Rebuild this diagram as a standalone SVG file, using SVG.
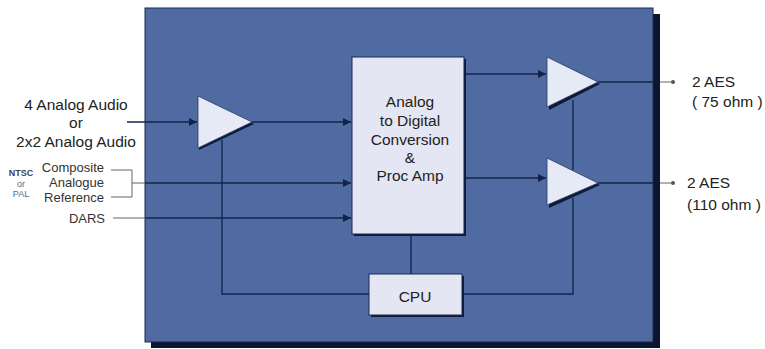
<svg xmlns="http://www.w3.org/2000/svg" width="765" height="349" viewBox="0 0 765 349">
<defs>
<style>
.t{font-family:"Liberation Sans",Arial,sans-serif;fill:#222;font-size:15.5px}
.s{font-family:"Liberation Sans",Arial,sans-serif;fill:#333;font-size:13px}
.w{stroke:#15234a;stroke-width:1.3;fill:none}
.o{stroke:#666;stroke-width:1;fill:none}
.tri{fill:#e6e9f6;stroke:#2a3a66;stroke-width:0.8}
.sh{fill:#0d1a38}
.box{fill:#e4e6f3;stroke:#1d2b55;stroke-width:1}
</style>
<marker id="ar" viewBox="0 0 10 10" refX="10" refY="5" markerWidth="8" markerHeight="8" markerUnits="userSpaceOnUse" orient="auto">
<path d="M0,0L10,5L0,10z" fill="#15234a"/>
</marker>
<marker id="dot" viewBox="0 0 4 4" refX="2" refY="2" markerWidth="4" markerHeight="4" markerUnits="userSpaceOnUse">
<circle cx="2" cy="2" r="2" fill="#555"/>
</marker>
</defs>
<rect width="765" height="349" fill="#fff"/>
<g id="frame">
<rect x="151" y="14" width="509" height="334" fill="#0d1530"/>
<rect x="145" y="8" width="508" height="334" fill="#4f6ba1" stroke="#1b2a52" stroke-width="1"/>
</g>
<g id="connectors">
<path class="w" d="M127,122H197" marker-end="url(#ar)"/>
<path class="w" d="M252,122H351" marker-end="url(#ar)"/>
<path class="o" d="M111,170H132V197H111M132,183H145"/>
<path class="w" d="M145,183H351" marker-end="url(#ar)"/>
<path class="o" d="M113,218H145"/>
<path class="w" d="M145,218H351" marker-end="url(#ar)"/>
<path class="w" d="M464,74H546" marker-end="url(#ar)"/>
<path class="w" d="M464,178H546" marker-end="url(#ar)"/>
<path class="w" d="M222,140V294H369"/>
<path class="w" d="M411,234V274"/>
<path class="w" d="M462,294H573V198M573,170V100"/>
<path class="w" d="M598,82H653"/>
<path class="w" d="M598,183H653"/>
<path class="o" d="M660,82H673" marker-end="url(#dot)"/>
<path class="o" d="M660,183H673" marker-end="url(#dot)"/>
</g>
<g id="amp-in">
<path class="sh" d="M199,99L199,150L254,124z"/>
<path class="tri" d="M198,96L198,148L252,122z"/>
</g>
<g id="amp-75">
<path class="sh" d="M549,60L549,110L600,84z"/>
<path class="tri" d="M547,57L547,107L598,82z"/>
</g>
<g id="amp-110">
<path class="sh" d="M549,161L549,208L600,185z"/>
<path class="tri" d="M547,158L547,205L598,183z"/>
</g>
<g id="adc">
<rect x="354" y="59" width="112" height="177" class="sh"/>
<rect x="352" y="57" width="112" height="177" class="box"/>
<text class="t" text-anchor="middle" x="410" y="107">Analog</text>
<text class="t" text-anchor="middle" x="410" y="126">to Digital</text>
<text class="t" text-anchor="middle" x="410" y="145">Conversion</text>
<text class="t" text-anchor="middle" x="410" y="163">&amp;</text>
<text class="t" text-anchor="middle" x="410" y="181">Proc Amp</text>
</g>
<g id="cpu">
<rect x="371" y="276" width="93" height="41" class="sh"/>
<rect x="369" y="274" width="93" height="41" class="box"/>
<text class="t" text-anchor="middle" x="415" y="302">CPU</text>
</g>
<g id="in-labels">
<text class="t" text-anchor="middle" x="76" y="110">4 Analog Audio</text>
<text class="t" text-anchor="middle" x="76" y="128">or</text>
<text class="t" text-anchor="middle" x="76" y="147">2x2 Analog Audio</text>
<text class="s" text-anchor="end" x="104" y="172">Composite</text>
<text class="s" text-anchor="end" x="104" y="187">Analogue</text>
<text class="s" text-anchor="end" x="104" y="202">Reference</text>
<text class="s" text-anchor="end" x="105" y="223">DARS</text>
<text x="21" y="176" text-anchor="middle" font-family="Liberation Sans,Arial,sans-serif" font-size="9" font-weight="bold" fill="#3a4050">NTSC</text>
<text x="21" y="187" text-anchor="middle" font-family="Liberation Sans,Arial,sans-serif" font-size="9" fill="#5a6888">or</text>
<text x="21" y="197" text-anchor="middle" font-family="Liberation Sans,Arial,sans-serif" font-size="9" fill="#5a6888">PAL</text>
</g>
<g id="out-labels">
<text class="t" x="692" y="87">2 AES</text>
<text class="t" x="692" y="107">( 75 ohm )</text>
<text class="t" x="687" y="188">2 AES</text>
<text class="t" x="687" y="210">(110 ohm )</text>
</g>
</svg>
